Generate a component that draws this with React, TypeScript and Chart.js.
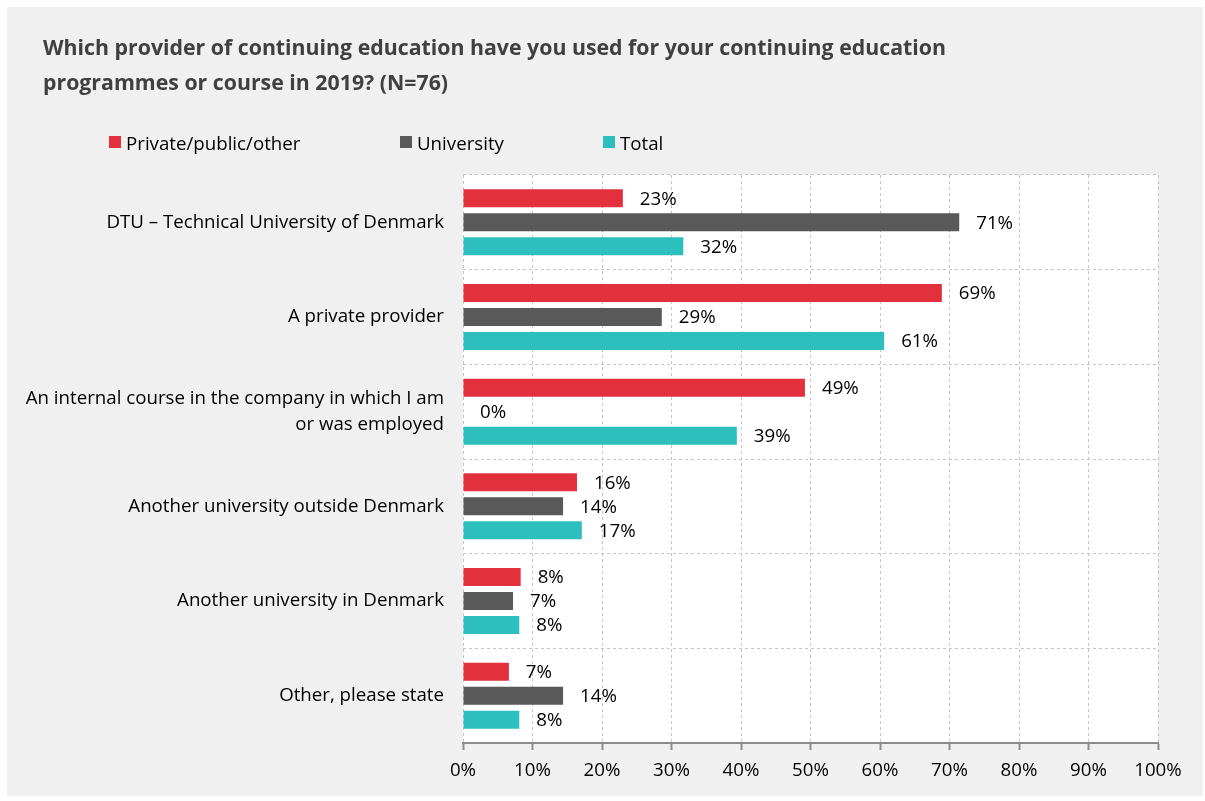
import React, { useEffect, useRef } from "react";
import { Chart, registerables } from "chart.js";

Chart.register(...registerables);

const categories: (string | string[])[] = [
  "DTU – Technical University of Denmark",
  "A private provider",
  ["An internal course in the company in which I am", "or was employed"],
  "Another university outside Denmark",
  "Another university in Denmark",
  "Other, please state",
];
const seriesNames = ["Private/public/other", "University", "Total"];
const privateValues = [23.0, 68.9, 49.2, 16.4, 8.3, 6.6];
const universityValues = [71.4, 28.6, 0, 14.4, 7.2, 14.4];
const totalValues = [31.7, 60.6, 39.4, 17.1, 8.1, 8.1];
const colors = ["#E2313C", "#595959", "#2CBFBD"];
const xTicks = [0, 10, 20, 30, 40, 50, 60, 70, 80, 90, 100];

const FONT = "'Open Sans', sans-serif";
const FS = 18.7;

const valueLabels = {
  id: "valueLabels",
  afterDatasetsDraw(chart: any) {
    const ctx = chart.ctx;
    ctx.save();
    ctx.font = `${FS}px ${FONT}`;
    ctx.fillStyle = "#000";
    ctx.textAlign = "left";
    ctx.textBaseline = "middle";
    chart.data.datasets.forEach((ds: any, di: number) => {
      const meta = chart.getDatasetMeta(di);
      meta.data.forEach((bar: any, i: number) => {
        const v = ds.data[i];
        ctx.fillText(Math.round(v) + "%", bar.x + 17, bar.y + 1);
      });
    });
    ctx.restore();
  },
};

export default function App() {
  const ref = useRef<HTMLCanvasElement>(null);
  useEffect(() => {
    document.body.style.margin = "0";
    const chart = new Chart(ref.current!, {
      type: "bar",
      data: {
        labels: categories,
        datasets: [privateValues, universityValues, totalValues].map((d, i) => ({
          label: seriesNames[i],
          data: d,
          backgroundColor: colors[i],
          barPercentage: 0.75,
          categoryPercentage: 0.76,
        })),
      },
      options: {
        indexAxis: "y",
        animation: false,
        responsive: false,
        layout: { padding: { top: 175, right: 47, left: 0, bottom: 0 } },
        plugins: { legend: { display: false }, tooltip: { enabled: false } },
        scales: {
          x: {
            min: 0,
            max: 100,
            afterBuildTicks: (s: any) => {
              s.ticks = xTicks.map((v) => ({ value: v }));
            },
            afterFit: (s: any) => {
              s.height = 58;
            },
            ticks: {
              color: "#000",
              font: { family: FONT, size: FS },
              padding: 9,
              callback: (v: any) => v + "%",
            },
            grid: {
              color: "#c4c4c4",
              tickBorderDash: [],
              tickColor: "#8c8c8c",
              tickWidth: 2,
              tickLength: 7,
            } as any,
            border: { display: true, color: "#8c8c8c", width: 2, dash: [3, 3] },
          },
          y: {
            afterFit: (s: any) => {
              s.width = 463;
            },
            ticks: {
              color: "#000",
              font: { family: FONT, size: FS, lineHeight: 1.35 },
              padding: 19,
            },
            grid: {
              offset: true,
              color: "#c4c4c4",
              drawTicks: false,
            },
            border: { display: false, dash: [3, 3] },
          },
        },
      } as any,
      plugins: [
        valueLabels,
        {
          id: "plotBg",
          beforeDraw(c: any) {
            const { ctx, chartArea: a } = c;
            ctx.save();
            ctx.fillStyle = "#fff";
            ctx.fillRect(a.left, a.top, a.right - a.left, a.bottom - a.top);
            ctx.restore();
          },
        },
      ],
    });
    return () => chart.destroy();
  }, []);

  return (
    <div style={{ position: "relative", width: 1205, height: 801, background: "#fff", fontFamily: FONT }}>
      <div style={{ position: "absolute", left: 7, top: 7, width: 1196, height: 789, background: "#f0f0f0" }} />
      <canvas ref={ref} width={1205} height={801} style={{ position: "absolute", left: 0, top: 0 }} />
      <div
        style={{
          position: "absolute",
          left: 43,
          top: 29,
          fontSize: 21.3,
          fontWeight: 700,
          color: "#404040",
          lineHeight: "35px",
          width: 1150,
          whiteSpace: "nowrap",
        }}
      >
        Which provider of continuing education have you used for your continuing education
        <br />
        programmes or course in 2019? (N=76)
      </div>
      {seriesNames.map((n, i) => (
        <div
          key={n}
          style={{
            position: "absolute",
            left: [109, 400, 603][i],
            top: 130,
            display: "flex",
            alignItems: "center",
            fontSize: FS,
            color: "#000",
            height: 24,
          }}
        >
          <span style={{ width: 12, height: 12, background: colors[i], marginRight: 5, display: "inline-block" }} />
          {n}
        </div>
      ))}
    </div>
  );
}
